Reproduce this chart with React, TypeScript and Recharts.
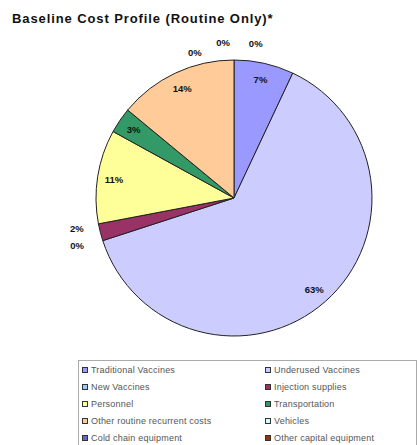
import React from 'react';
import { PieChart, Pie, Cell } from 'recharts';

const categories = [
  'Traditional Vaccines',
  'Underused Vaccines',
  'New Vaccines',
  'Injection supplies',
  'Personnel',
  'Transportation',
  'Other routine recurrent costs',
  'Vehicles',
  'Cold chain equipment',
  'Other capital equipment',
];
const values = [7, 63, 0, 2, 11, 3, 14, 0, 0, 0];
const colors = ['#9999FF', '#CCCCFF', '#99CCFF', '#993366', '#FFFF99', '#339966', '#FFCC99', '#CCFFFF', '#6666CC', '#993300'];
// angular nudges (degrees) and radial offsets for crowded outside labels
const labelNudge = [0, 0, -1, -3.5, 0, 0, 0, 15, 4, -8];
const labelRadiusExtra = [0, 0, 26, 22, 0, 0, 0, 13, 18, 18];

const data = categories.map((name, i) => ({ name, value: values[i] }));

const RAD = Math.PI / 180;

const renderLabel = (props: any) => {
  const { cx, cy, midAngle, outerRadius, index, value } = props;
  const inside = value >= 3;
  const ang = midAngle + labelNudge[index];
  const r = inside ? outerRadius * 0.88 : outerRadius + labelRadiusExtra[index];
  const x = cx + r * Math.cos(-ang * RAD);
  const y = cy + r * Math.sin(-ang * RAD);
  return (
    <text
      x={x}
      y={y}
      textAnchor="middle"
      dominantBaseline="central"
      fontFamily="Arial, 'Liberation Sans', sans-serif"
      fontWeight="bold"
      fontSize={9.5}
      fill="#111"
    >
      {`${value}%`}
    </text>
  );
};

export default function App() {
  return (
    <div style={{ position: 'absolute', left: 0, top: 0, width: 417, height: 445, background: '#fff', overflow: 'hidden' }}>
      <div
        style={{
          position: 'absolute',
          left: 12,
          top: 11,
          fontFamily: "Arial, 'Liberation Sans', sans-serif",
          fontWeight: 'bold',
          fontSize: 13,
          letterSpacing: 0.9,
          color: '#111',
          whiteSpace: 'nowrap',
        }}
      >
        Baseline Cost Profile (Routine Only)*
      </div>
      <div style={{ position: 'absolute', left: 0, top: 0 }}>
        <PieChart width={417} height={345}>
          <Pie
            data={data}
            dataKey="value"
            nameKey="name"
            cx={229}
            cy={193}
            outerRadius={138}
            startAngle={90}
            endAngle={-270}
            stroke="#222"
            strokeWidth={1}
            label={renderLabel}
            labelLine={false}
            isAnimationActive={false}
          >
            {data.map((d, i) => (
              <Cell key={d.name} fill={colors[i]} />
            ))}
          </Pie>
        </PieChart>
      </div>
      <div
        style={{
          position: 'absolute',
          left: 78,
          top: 360,
          width: 337,
          height: 100,
          borderTop: '1px solid #aaa',
          borderLeft: '1px solid #aaa',
          borderRight: '1px solid #aaa',
          fontFamily: "Arial, 'Liberation Sans', sans-serif",
          fontSize: 9,
          letterSpacing: 0.2,
          color: '#555',
        }}
      >
        {categories.map((c, i) => {
          const col = i % 2;
          const row = Math.floor(i / 2);
          return (
            <div
              key={c}
              style={{
                position: 'absolute',
                left: col === 0 ? 3 : 186,
                top: 4 + row * 17,
                display: 'flex',
                alignItems: 'center',
                whiteSpace: 'nowrap',
                height: 10,
              }}
            >
              <span
                style={{
                  display: 'inline-block',
                  width: 4,
                  height: 4,
                  background: colors[i],
                  border: '1px solid #333',
                  marginRight: 3,
                }}
              />
              {c}
            </div>
          );
        })}
      </div>
    </div>
  );
}
